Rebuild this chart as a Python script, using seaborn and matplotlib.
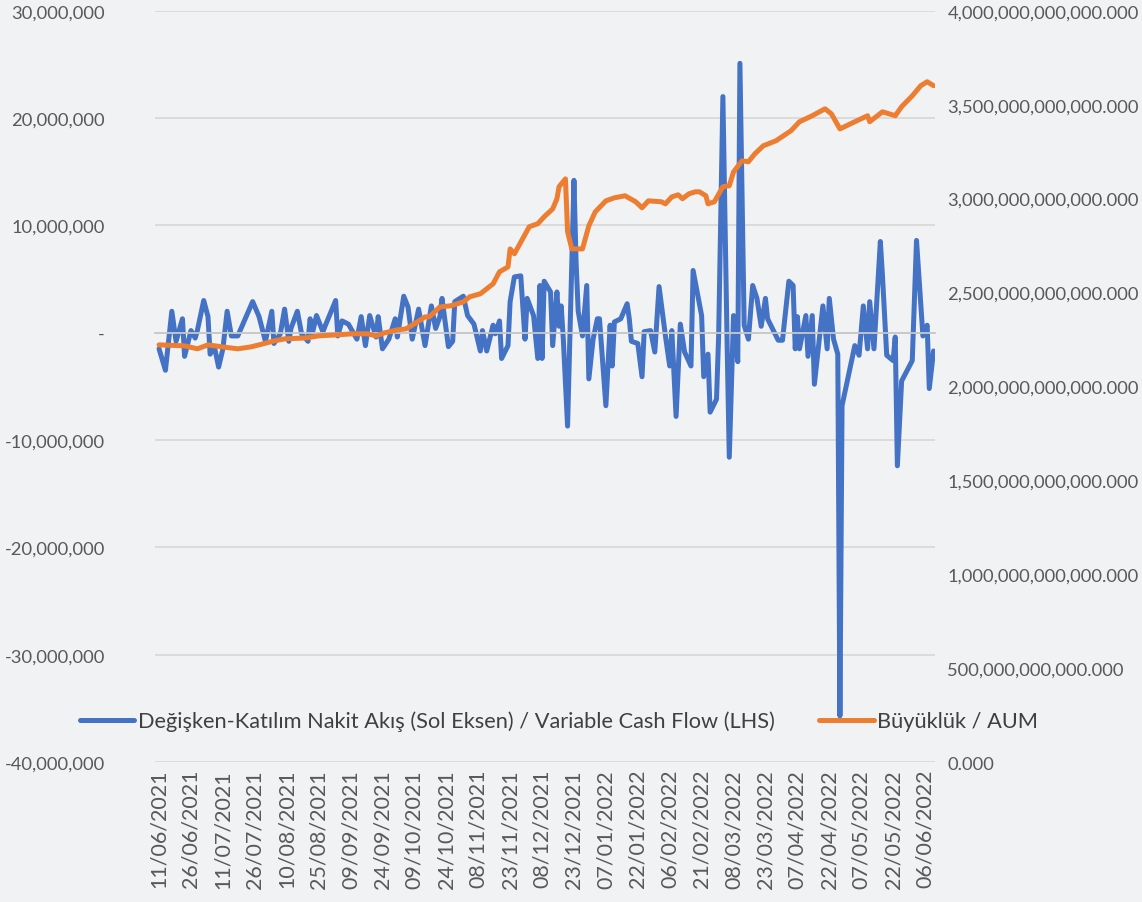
import pandas as pd
import matplotlib.pyplot as plt
import seaborn as sns
from matplotlib.ticker import FuncFormatter

# Variable cash flow (million TRY)
cf_dates = [
    "2021-06-11", "2021-06-14", "2021-06-17", "2021-06-19", "2021-06-22", "2021-06-23", "2021-06-26", "2021-06-28", "2021-06-29",
    "2021-07-02", "2021-07-04", "2021-07-05", "2021-07-07", "2021-07-09", "2021-07-11", "2021-07-13", "2021-07-15", "2021-07-18", "2021-07-25", "2021-07-28", "2021-07-31",
    "2021-08-03", "2021-08-04", "2021-08-07", "2021-08-09", "2021-08-11", "2021-08-12", "2021-08-15", "2021-08-17", "2021-08-20", "2021-08-21", "2021-08-22", "2021-08-24", "2021-08-27", "2021-08-28",
    "2021-09-02", "2021-09-03", "2021-09-05", "2021-09-08", "2021-09-10", "2021-09-12", "2021-09-14", "2021-09-16", "2021-09-18", "2021-09-21", "2021-09-22", "2021-09-24", "2021-09-27", "2021-09-30",
    "2021-10-01", "2021-10-04", "2021-10-06", "2021-10-08", "2021-10-11", "2021-10-14", "2021-10-17", "2021-10-19", "2021-10-21", "2021-10-22", "2021-10-25", "2021-10-27", "2021-10-28",
    "2021-11-01", "2021-11-03", "2021-11-06", "2021-11-09", "2021-11-10", "2021-11-12", "2021-11-15", "2021-11-16", "2021-11-18", "2021-11-19", "2021-11-22", "2021-11-23", "2021-11-25", "2021-11-28", "2021-11-30",
    "2021-12-01", "2021-12-04", "2021-12-06", "2021-12-07", "2021-12-08", "2021-12-09", "2021-12-12", "2021-12-13", "2021-12-15", "2021-12-16", "2021-12-17", "2021-12-18", "2021-12-20", "2021-12-23", "2021-12-24", "2021-12-25", "2021-12-27", "2021-12-29", "2021-12-30",
    "2022-01-01", "2022-01-03", "2022-01-04", "2022-01-07", "2022-01-09", "2022-01-10", "2022-01-11", "2022-01-14", "2022-01-17", "2022-01-18", "2022-01-19", "2022-01-22", "2022-01-24", "2022-01-25", "2022-01-28", "2022-01-30",
    "2022-02-01", "2022-02-04", "2022-02-06", "2022-02-07", "2022-02-09", "2022-02-11", "2022-02-13", "2022-02-16", "2022-02-17", "2022-02-21", "2022-02-22", "2022-02-24", "2022-02-25", "2022-02-28",
    "2022-03-01", "2022-03-03", "2022-03-05", "2022-03-06", "2022-03-08", "2022-03-10", "2022-03-11", "2022-03-13", "2022-03-15", "2022-03-17", "2022-03-19", "2022-03-21", "2022-03-23", "2022-03-24", "2022-03-29", "2022-03-31",
    "2022-04-03", "2022-04-05", "2022-04-06", "2022-04-07", "2022-04-08", "2022-04-11", "2022-04-12", "2022-04-14", "2022-04-15", "2022-04-19", "2022-04-21", "2022-04-22", "2022-04-24", "2022-04-26", "2022-04-27", "2022-04-28",
    "2022-05-04", "2022-05-06", "2022-05-08", "2022-05-10", "2022-05-11", "2022-05-13", "2022-05-16", "2022-05-17", "2022-05-19", "2022-05-22", "2022-05-23", "2022-05-24", "2022-05-26", "2022-05-31",
    "2022-06-02", "2022-06-05", "2022-06-07", "2022-06-08", "2022-06-10",
]
cf_millions = [
    -1.5, -3.5, 2.0, -0.8, 1.3, -2.2, 0.2, -0.5, 0.2,
    3.0, 1.5, -2.0, -1.3, -3.2, -1.5, 2.0, -0.3, -0.3, 2.9, 1.5, -0.8,
    2.0, -1.0, -0.1, 2.2, -0.8, 0.4, 2.0, -0.1, -0.8, 1.3, -0.1, 1.6, 0.1, 0.6,
    3.0, -0.3, 1.1, 0.8, 0.1, -0.6, 1.5, -1.2, 1.6, -0.4, 1.5, -1.5, -0.6, 1.3,
    -0.4, 3.4, 2.4, -0.6, 2.2, -1.2, 2.5, 0.4, 1.5, 3.2, -1.3, -0.8, 2.9,
    3.4, 1.6, 0.8, -1.7, 0.2, -1.7, 0.7, -0.1, 1.1, -2.4, -1.2, 2.9, 5.2, 5.3, -0.6,
    3.2, 1.6, -2.4, 4.4, -2.4, 4.8, 3.8, -1.2, 3.8, 0.6, 2.5, -0.6, -8.7, 14.2, 6.6, 2.0, -0.3, 4.4, -4.3,
    -0.6, 1.3, 1.3, -6.8, 0.7, -3.1, 1.0, 1.3, 2.7, 1.3, -0.8, -1.0, -4.1, 0.1, 0.2, -1.8,
    4.3, -0.3, -3.1, 0.2, -7.8, 0.8, -1.8, -3.1, 5.8, 1.6, -4.1, -2.0, -7.4, -6.2,
    -0.3, 22.0, -1.2, -11.6, 1.6, -2.7, 25.1, 0.7, -0.6, 4.4, 3.2, 0.6, 3.2, 1.3, -0.7, -0.7,
    4.8, 4.4, -1.5, 1.5, -1.5, 1.6, -2.2, 1.6, -4.8, 2.5, -1.5, 3.2, -0.6, -2.0, -35.7, -6.8,
    -1.2, -2.1, 2.5, -1.5, 2.9, -1.5, 8.5, 5.3, -2.1, -2.6, -0.4, -12.4, -4.5, -2.6,
    8.6, -0.3, 0.7, -5.2, -1.7,
]

# Fund size / AUM (trillion TRY)
aum_dates = [
    "2021-06-11", "2021-06-23", "2021-06-29",
    "2021-07-04", "2021-07-11", "2021-07-18", "2021-07-24", "2021-07-28",
    "2021-08-04", "2021-08-09", "2021-08-19", "2021-08-25",
    "2021-09-02", "2021-09-10", "2021-09-17", "2021-09-21", "2021-09-25",
    "2021-10-01", "2021-10-05", "2021-10-09", "2021-10-14", "2021-10-16", "2021-10-21", "2021-10-26",
    "2021-11-01", "2021-11-04", "2021-11-09", "2021-11-15", "2021-11-18", "2021-11-22", "2021-11-23", "2021-11-25",
    "2021-12-02", "2021-12-06", "2021-12-09", "2021-12-13", "2021-12-15", "2021-12-16", "2021-12-19", "2021-12-20", "2021-12-22", "2021-12-27", "2021-12-30",
    "2022-01-02", "2022-01-07", "2022-01-11", "2022-01-16", "2022-01-21", "2022-01-24", "2022-01-27",
    "2022-02-02", "2022-02-04", "2022-02-07", "2022-02-10", "2022-02-12", "2022-02-15", "2022-02-18", "2022-02-20", "2022-02-23", "2022-02-24", "2022-02-27",
    "2022-03-03", "2022-03-06", "2022-03-08", "2022-03-12", "2022-03-15", "2022-03-18", "2022-03-22", "2022-03-28",
    "2022-04-04", "2022-04-08", "2022-04-14", "2022-04-20", "2022-04-23", "2022-04-27",
    "2022-05-04", "2022-05-10", "2022-05-11", "2022-05-17", "2022-05-23", "2022-05-26", "2022-05-31",
    "2022-06-04", "2022-06-07", "2022-06-10",
]
aum_trillions = [
    2.221, 2.216, 2.200,
    2.221, 2.210, 2.200, 2.210, 2.221,
    2.242, 2.253, 2.258, 2.269,
    2.274, 2.280, 2.280, 2.269, 2.285,
    2.301, 2.306, 2.333, 2.370, 2.370, 2.423, 2.429,
    2.450, 2.477, 2.493, 2.546, 2.610, 2.636, 2.732, 2.706,
    2.850, 2.866, 2.903, 2.945, 2.999, 3.063, 3.105, 2.823, 2.732, 2.732, 2.855,
    2.929, 2.988, 3.004, 3.015, 2.983, 2.951, 2.988,
    2.983, 2.972, 3.009, 3.020, 2.999, 3.025, 3.036, 3.036, 3.015, 2.972, 2.983,
    3.063, 3.068, 3.142, 3.201, 3.196, 3.238, 3.281, 3.308,
    3.361, 3.409, 3.441, 3.478, 3.451, 3.371,
    3.409, 3.441, 3.409, 3.462, 3.441, 3.489, 3.547,
    3.601, 3.622, 3.601,
]

tick_labels = [
    "11/06/2021", "26/06/2021", "11/07/2021", "26/07/2021", "10/08/2021", "25/08/2021",
    "09/09/2021", "24/09/2021", "09/10/2021", "24/10/2021", "08/11/2021", "23/11/2021",
    "08/12/2021", "23/12/2021", "07/01/2022", "22/01/2022", "06/02/2022", "21/02/2022",
    "08/03/2022", "23/03/2022", "07/04/2022", "22/04/2022", "07/05/2022", "22/05/2022",
    "06/06/2022",
]

series_labels = [
    "Değişken-Katılım Nakit Akış (Sol Eksen) / Variable Cash Flow (LHS)",
    "Büyüklük / AUM",
]

cf_df = pd.DataFrame({"date": pd.to_datetime(cf_dates), "flow": [v * 1e6 for v in cf_millions]})
aum_df = pd.DataFrame({"date": pd.to_datetime(aum_dates), "aum": [v * 1e12 for v in aum_trillions]})
tick_dates = pd.to_datetime(tick_labels, format="%d/%m/%Y")

sns.set_theme(style="white")
plt.rcParams["font.family"] = ["Lato", "DejaVu Sans"]

bg = "#f1f2f4"
blue = "#4472C4"
orange = "#ED7D31"
txt = "#595959"

fig = plt.figure(figsize=(11.42, 9.03), dpi=100, facecolor=bg)
ax = fig.add_axes([0.1357, 0.155, 0.683, 0.832])
ax.set_facecolor(bg)
ax2 = ax.twinx()

sns.lineplot(data=cf_df, x="date", y="flow", ax=ax, color=blue, linewidth=3.6)
sns.lineplot(data=aum_df, x="date", y="aum", ax=ax2, color=orange, linewidth=3.6)

ax.set_xlim(pd.Timestamp("2021-06-09 02:00"), pd.Timestamp("2022-06-10 16:00"))
ax.set_ylim(-40e6, 30e6)
ax.set_yticks([v * 1e7 for v in range(-4, 4)])
ax2.set_ylim(0, 4e12)
ax2.set_yticks([v * 0.5e12 for v in range(9)])

ax.yaxis.set_major_formatter(FuncFormatter(lambda v, _: "-" if abs(v) < 1 else f"{v:,.0f}"))
ax2.yaxis.set_major_formatter(FuncFormatter(lambda v, _: f"{v:,.3f}"))

for a in (ax, ax2):
    a.set_xlabel("")
    a.set_ylabel("")
    for sp in a.spines.values():
        sp.set_visible(False)

ax.grid(axis="y", color="#d9d9d9", linewidth=1.3)
ax.grid(axis="x", visible=False)
ax2.grid(False)

# category axis crosses at zero, labels sit at the bottom
ax.set_xticks(tick_dates, labels=tick_labels)
ax.spines["bottom"].set_visible(True)
ax.spines["bottom"].set_position(("data", 0))
ax.spines["bottom"].set_color("#c8c8c8")
ax.spines["bottom"].set_linewidth(1.3)
ax.tick_params(axis="x", length=5, width=1.2, color="#c8c8c8", direction="out", labelbottom=False)
ax2.xaxis.set_visible(True)
ax2.tick_params(axis="x", length=0, labelbottom=True, labelrotation=90, labelsize=15.5, labelcolor=txt, pad=5)

ax.tick_params(axis="y", length=0, pad=36, labelsize=13.2, labelcolor=txt)
ax2.tick_params(axis="y", length=0, pad=9, labelsize=13.2, labelcolor=txt)

fig.legend(handles=[ax.lines[0], ax2.lines[0]], labels=series_labels,
           loc="center", bbox_to_anchor=(0.4895, 0.2004), ncol=2, frameon=False,
           fontsize=15.7, labelcolor="#404040", handlelength=2.5, handletextpad=0.15,
           columnspacing=2.05)

fig.savefig("out.png", dpi=100, facecolor=bg)
